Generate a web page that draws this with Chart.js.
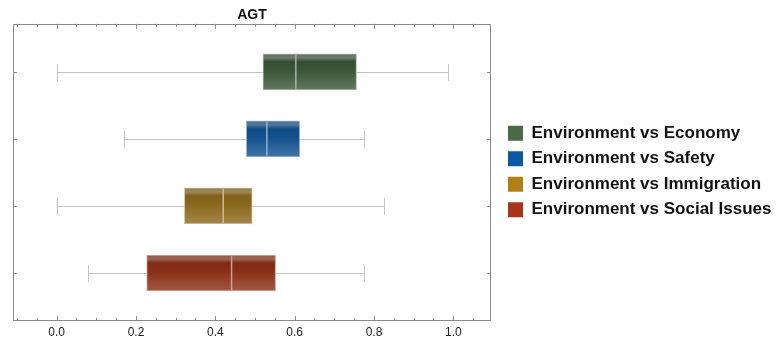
<!DOCTYPE html>
<html>
<head>
<meta charset="utf-8">
<script src="https://cdn.jsdelivr.net/npm/chart.js@4.4.1/dist/chart.umd.min.js"></script>
<style>
  html, body { margin: 0; padding: 0; background: #fff; }
  #wrap { width: 778px; height: 339px; }
</style>
</head>
<body>
<div id="wrap"><canvas id="agt"></canvas></div>
<script>
// ===== Data =====
const categories = ['Environment vs Economy', 'Environment vs Safety', 'Environment vs Immigration', 'Environment vs Social Issues'];
const mins    = [0.000, 0.169, 0.000, 0.078];
const q1s     = [0.520, 0.478, 0.322, 0.227];
const medians = [0.603, 0.530, 0.420, 0.441];
const q3s     = [0.756, 0.613, 0.493, 0.552];
const maxs    = [0.986, 0.774, 0.825, 0.776];
const xTicks  = [0.0, 0.2, 0.4, 0.6, 0.8, 1.0];

// ===== Styles =====
const legendColors = ['#4a6b46', '#0b5aa4', '#b07f16', '#aa3219'];
const boxColors    = ['#3a5536', '#12518e', '#8b681c', '#8a2f16'];
const BOX_H = 36;
const CAP_H = 17;
const FONT = '"Liberation Sans", Arial, sans-serif';

function mix(a, b, t){
    const pa = parseInt(a.slice(1), 16), pb = parseInt(b.slice(1), 16);
    const ch = s => Math.round(((pa >> s) & 255) * (1 - t) + ((pb >> s) & 255) * t);
    return `rgb(${ch(16)},${ch(8)},${ch(0)})`;
}

function boxFill(chart, i){
    const c = boxColors[i];
    if(!chart.chartArea || !chart.scales.y) return c;
    const y = chart.scales.y.getPixelForValue(i);
    const g = chart.ctx.createLinearGradient(0, y - BOX_H/2, 0, y + BOX_H/2);
    g.addColorStop(0.00, mix(c, '#9a9a9a', 0.42));
    g.addColorStop(0.06, mix(c, '#a8a8a8', 0.40));
    g.addColorStop(0.11, mix(c, '#bdbdbd', 0.38));
    g.addColorStop(0.22, mix(c, '#000000', 0.08));
    g.addColorStop(0.45, c);
    g.addColorStop(1.00, mix(c, '#ffffff', 0.20));
    return g;
}

// ===== Whiskers, medians, frame and ticks =====
const boxPlotParts = {
    id: 'boxPlotParts',
    beforeDatasetsDraw(chart){
        const {ctx, scales:{x, y}} = chart;
        ctx.save();
        ctx.strokeStyle = '#c2c2c2';
        ctx.lineWidth = 1;
        categories.forEach((_, i) => {
            const py = Math.round(y.getPixelForValue(i)) + 0.5;
            const lo = Math.round(x.getPixelForValue(mins[i])) + 0.5;
            const hi = Math.round(x.getPixelForValue(maxs[i])) + 0.5;
            ctx.beginPath();
            ctx.moveTo(lo, py); ctx.lineTo(x.getPixelForValue(q1s[i]), py);
            ctx.moveTo(x.getPixelForValue(q3s[i]), py); ctx.lineTo(hi, py);
            ctx.moveTo(lo, py - CAP_H/2); ctx.lineTo(lo, py + CAP_H/2);
            ctx.moveTo(hi, py - CAP_H/2); ctx.lineTo(hi, py + CAP_H/2);
            ctx.stroke();
        });
        ctx.restore();
    },
    afterDatasetsDraw(chart){
        const {ctx, scales:{x, y}} = chart;
        ctx.save();
        ctx.lineWidth = 1.5;
        categories.forEach((_, i) => {
            const py = y.getPixelForValue(i);
            const px = x.getPixelForValue(medians[i]);
            ctx.strokeStyle = mix(boxColors[i], '#ffffff', 0.55);
            ctx.beginPath();
            ctx.moveTo(px, py - BOX_H/2 + 1); ctx.lineTo(px, py + BOX_H/2 - 1);
            ctx.stroke();
        });
        ctx.restore();
    },
    afterDraw(chart){
        const {ctx, chartArea:a, scales:{x, y}} = chart;
        ctx.save();
        ctx.strokeStyle = '#8a8a8a';
        ctx.lineWidth = 1;
        ctx.strokeRect(Math.round(a.left) + 0.5, Math.round(a.top) + 0.5,
                       Math.round(a.right - a.left) - 1, Math.round(a.bottom - a.top) - 1);
        ctx.beginPath();
        // minor ticks every 0.05, major every 0.2
        for(let k = Math.ceil(x.min / 0.05); k * 0.05 <= x.max; k++){
            const px = Math.round(x.getPixelForValue(k * 0.05)) + 0.5;
            const len = (k % 4 === 0) ? 5 : 3;
            ctx.moveTo(px, a.bottom); ctx.lineTo(px, a.bottom - len);
            ctx.moveTo(px, a.top);    ctx.lineTo(px, a.top + len);
        }
        categories.forEach((_, i) => {
            const py = Math.round(y.getPixelForValue(i)) + 0.5;
            ctx.moveTo(a.left, py);  ctx.lineTo(a.left + 4, py);
            ctx.moveTo(a.right, py); ctx.lineTo(a.right - 4, py);
        });
        ctx.stroke();
        ctx.restore();
    }
};

const datasets = categories.map((name, i) => ({
    label: name,
    data: [{ x: [q1s[i], q3s[i]], y: i }],
    backgroundColor: ctx => boxFill(ctx.chart, i),
    borderColor: mix(boxColors[i], '#ffffff', 0.6),
    borderWidth: 1,
    borderSkipped: false,
    barThickness: BOX_H,
    grouped: false
}));

new Chart(document.getElementById('agt'), {
    type: 'bar',
    data: { datasets },
    plugins: [boxPlotParts],
    options: {
        indexAxis: 'y',
        responsive: true,
        maintainAspectRatio: false,
        animation: false,
        events: [],
        layout: { padding: { left: 13, top: 4, right: 0, bottom: 0 } },
        scales: {
            x: {
                type: 'linear',
                min: -0.11,
                max: 1.095,
                grid: { display: false, drawTicks: false },
                border: { display: false },
                afterBuildTicks: s => { s.ticks = xTicks.map(v => ({ value: v })); },
                afterFit: s => { s.height = 18; },
                ticks: {
                    padding: 4,
                    color: '#222',
                    font: { family: FONT, size: 12 },
                    callback: v => Number(v).toFixed(1)
                }
            },
            y: {
                type: 'linear',
                position: 'right',
                offset: false,
                min: -0.716,
                max: 3.716,
                reverse: true,
                grid: { display: false, drawTicks: false, offset: false },
                border: { display: false },
                ticks: { display: false },
                afterFit: s => { s.width = 8.5; }
            }
        },
        plugins: {
            title: {
                display: true,
                text: 'AGT',
                fullSize: false,
                color: '#111',
                font: { family: FONT, size: 14, weight: 'bold' },
                padding: { top: 3, bottom: 0 }
            },
            legend: {
                position: 'right',
                align: 'center',
                maxWidth: 278.5,
                labels: {
                    boxWidth: 15,
                    boxHeight: 15,
                    padding: 8.5,
                    color: '#111',
                    font: { family: FONT, size: 17, weight: 'bold' },
                    generateLabels: () => categories.map((t, i) => ({
                        text: t, fillStyle: legendColors[i], strokeStyle: legendColors[i],
                        lineWidth: 0, hidden: false, datasetIndex: i, fontColor: '#111'
                    }))
                }
            },
            tooltip: { enabled: false }
        }
    }
});
</script>
</body>
</html>
